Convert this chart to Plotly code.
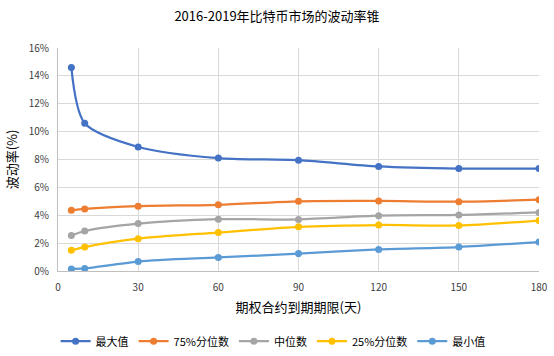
import plotly.graph_objects as go

days = [5, 10, 30, 60, 90, 120, 150, 180]
max_vals = [14.6, 10.6, 8.9, 8.1, 7.95, 7.5, 7.35, 7.35]
p75_vals = [4.35, 4.45, 4.65, 4.75, 5.0, 5.03, 4.97, 5.12]
median_vals = [2.55, 2.87, 3.4, 3.72, 3.7, 3.97, 4.02, 4.2]
p25_vals = [1.48, 1.72, 2.32, 2.76, 3.17, 3.3, 3.27, 3.62]
min_vals = [0.15, 0.18, 0.68, 0.97, 1.25, 1.55, 1.72, 2.08]

series = [
    ("最大值", max_vals, "#4472C4"),
    ("75%分位数", p75_vals, "#ED7D31"),
    ("中位数", median_vals, "#A5A5A5"),
    ("25%分位数", p25_vals, "#FFC000"),
    ("最小值", min_vals, "#5B9BD5"),
]

font_family = "Noto Sans CJK SC, DejaVu Sans, sans-serif"

fig = go.Figure()
for name, vals, color in series:
    fig.add_trace(go.Scatter(
        x=days, y=[v / 100 for v in vals], name=name,
        mode="lines+markers",
        line=dict(color=color, width=2.25, shape="spline", smoothing=0.8),
        marker=dict(color=color, size=7),
    ))

fig.update_layout(
    width=554, height=356,
    margin=dict(l=58, r=15, t=48, b=85, autoexpand=False),
    paper_bgcolor="white", plot_bgcolor="white",
    font=dict(family=font_family, color="#404040", size=10),
    title=dict(text="2016-2019年比特币市场的波动率锥", x=0.5, xanchor="center",
               y=0.955, yanchor="middle",
               font=dict(size=13, color="#000000", family=font_family)),
    showlegend=True,
    legend=dict(orientation="h", x=-0.005, xanchor="left", y=-0.315, yanchor="middle",
                font=dict(size=11, color="#000000"), itemwidth=30,
                traceorder="normal"),
    xaxis=dict(
        range=[0, 180], dtick=30, tick0=0, automargin=False,
        showgrid=True, gridcolor="#D9D9D9", gridwidth=1,
        showline=True, linecolor="#BFBFBF", linewidth=1,
        zeroline=False, ticks="", ticklabelstandoff=7,
        tickfont=dict(size=10, color="#404040"),
        title=dict(text="期权合约到期期限(天)", font=dict(size=13, color="#000000"), standoff=9),
    ),
    yaxis=dict(
        range=[0, 0.16], dtick=0.02, tickformat=".0%", automargin=False,
        showgrid=True, gridcolor="#D9D9D9", gridwidth=1,
        showline=True, linecolor="#BFBFBF", linewidth=1,
        zeroline=False, ticks="", ticklabelstandoff=6,
        tickfont=dict(size=10, color="#404040"),
        title=dict(text="波动率(%)", font=dict(size=13, color="#000000"), standoff=8),
    ),
)

fig.write_html("out.html", config={"displayModeBar": False},
               post_script="document.body.style.margin='0';document.body.style.overflow='hidden';")
